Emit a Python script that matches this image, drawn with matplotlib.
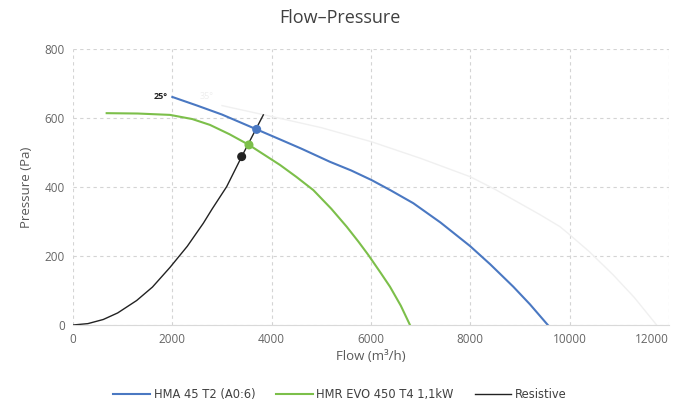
import matplotlib
matplotlib.use('Agg')
import matplotlib.pyplot as plt

plt.rcParams['font.family'] = ['Open Sans', 'DejaVu Sans']

# Fan curves (flow m3/h, pressure Pa)
hma_flow = [2000, 2500, 3000, 3698, 4167, 4600, 5174, 5600, 6013, 6400, 6852,
            7400, 7993, 8400, 8865, 9200, 9560]
hma_pres = [661, 636, 610, 567, 538, 511, 473, 448, 420, 390, 353,
            297, 229, 176, 111, 60, 0]

evo_flow = [678, 1300, 1953, 2400, 2758, 3150, 3543, 4167, 4500, 4839, 5200,
            5510, 5750, 5946, 6200, 6382, 6600, 6785]
evo_pres = [614, 613, 609, 597, 580, 553, 522, 464, 429, 391, 337,
            285, 241, 203, 150, 111, 56, 0]

faint_flow = [3000, 4167, 5000, 6013, 7000, 7993, 8500, 9400, 9805, 10006,
              10400, 10878, 11300, 11751]
faint_pres = [636, 599, 572, 531, 483, 430, 393, 320, 285, 261,
              212, 145, 80, 0]

res_flow = [0, 300, 610, 900, 1282, 1600, 1953, 2300, 2624, 2800, 3094, 3396, 3832]
res_pres = [0, 4, 16, 35, 71, 110, 167, 228, 295, 336, 401, 488, 609]

# operating points
op_flow = [3698, 3543, 3396]
op_pres = [567, 522, 488]

blue = '#4a78c2'
green = '#7cbf4a'
black = '#222222'

fig = plt.figure(figsize=(6.8, 4.03), dpi=100, facecolor='white')
ax = fig.add_axes([73 / 680, 78 / 403, 596 / 680, 276 / 403])

ax.plot(faint_flow, faint_pres, color='#f0f0f0', linewidth=1.0)
ax.plot(hma_flow, hma_pres, color=blue, linewidth=1.5, label='HMA 45 T2 (A0:6)')
ax.plot(evo_flow, evo_pres, color=green, linewidth=1.5, label='HMR EVO 450 T4 1,1kW')
ax.plot(res_flow, res_pres, color=black, linewidth=1.0, label='Resistive')

ax.scatter(op_flow, op_pres, color=[blue, green, black], s=30, zorder=5)

ax.text(1900, 661, '25°', fontsize=6.5, fontweight='bold', ha='right', va='center', color='#222222')
ax.text(2700, 661, '35°', fontsize=6.5, ha='center', va='center', color='#eeeeee')

ax.set_xlim(0, 12000)
ax.set_ylim(0, 800)
ax.set_xticks([0, 2000, 4000, 6000, 8000, 10000, 12000])
ax.set_yticks([0, 200, 400, 600, 800])
ax.grid(True, color='#d4d4d4', linestyle=(0, (3, 3)), linewidth=0.8)
for s in ['top', 'right', 'left']:
    ax.spines[s].set_visible(False)
ax.spines['bottom'].set_color('#d9d9d9')
ax.tick_params(length=0, labelsize=8.5, colors='#666666', pad=6)
ax.get_xticklabels()[-1].set_horizontalalignment('right')

ax.set_xlabel('Flow (m³/h)', fontsize=9.5, color='#595959', labelpad=3)
ax.set_ylabel('Pressure (Pa)', fontsize=9.5, color='#595959', labelpad=8)
fig.text(0.5, 0.955, 'Flow–Pressure', ha='center', va='center', fontsize=13, color='#404040')

leg = fig.legend(loc='center', bbox_to_anchor=(0.5, 0.02), ncol=3, frameon=False,
                 prop={'family': 'DejaVu Sans', 'size': 8.3},
                 handlelength=3.2, handletextpad=0.3, columnspacing=1.8)
for t in leg.get_texts():
    t.set_color('#404040')

fig.savefig('out.png', dpi=100, facecolor='white')
